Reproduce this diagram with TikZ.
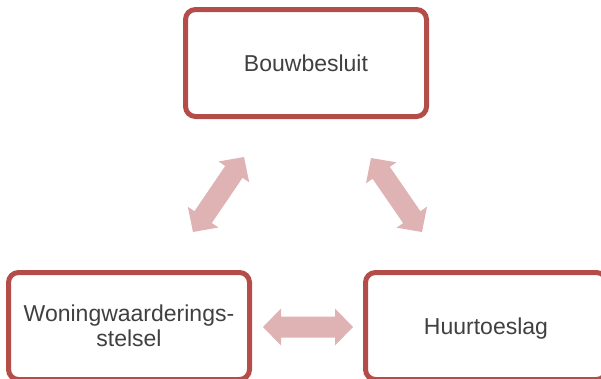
\documentclass[tikz,border=0pt]{standalone}
\usepackage{fontspec}
\setmainfont{Liberation Sans}
\usetikzlibrary{calc}
\definecolor{boxred}{RGB}{180,76,74}
\definecolor{linkpink}{RGB}{223,179,179}
\definecolor{labelgray}{RGB}{64,64,64}
% fat double-headed arrow between two named coordinates
\newcommand\fatlink[2]{%
  \fill[linkpink] (#1)
    -- ($(#1)!18pt!(#2)!18.5pt!90:(#2)$)
    -- ($(#1)!18pt!(#2)!10.5pt!90:(#2)$)
    -- ($(#2)!18pt!(#1)!10.5pt!-90:(#1)$)
    -- ($(#2)!18pt!(#1)!18.5pt!-90:(#1)$)
    -- (#2)
    -- ($(#2)!18pt!(#1)!18.5pt!90:(#1)$)
    -- ($(#2)!18pt!(#1)!10.5pt!90:(#1)$)
    -- ($(#1)!18pt!(#2)!10.5pt!-90:(#2)$)
    -- ($(#1)!18pt!(#2)!18.5pt!-90:(#2)$)
    -- cycle;}
\begin{document}
\begin{tikzpicture}[x=1pt,y=-1pt,
  stage/.style={draw=boxred, line width=5pt, rounded corners=10pt, fill=white,
    minimum width=241pt, minimum height=107pt, inner sep=0pt, align=center,
    text=labelgray, font=\fontsize{23}{25}\selectfont}]
\useasboundingbox (0,0) rectangle (601,378);
\clip (0,0) rectangle (601,378);
\node[stage] (bouw) at (306,63) {Bouwbesluit};
\node[stage] (wws) at (129,326) {Woningwaarderings-\\stelsel};
\node[stage, text depth=0pt] (huur) at (486,326) {Huurtoeslag};
% arrow tips
\coordinate (lt) at (244,157);
\coordinate (lb) at (193,232);
\coordinate (rt) at (371,158);
\coordinate (rb) at (422,232);
\coordinate (hl) at (263,327);
\coordinate (hr) at (353,327);
\fatlink{lt}{lb}
\fatlink{rt}{rb}
\fatlink{hl}{hr}
\end{tikzpicture}
\end{document}
